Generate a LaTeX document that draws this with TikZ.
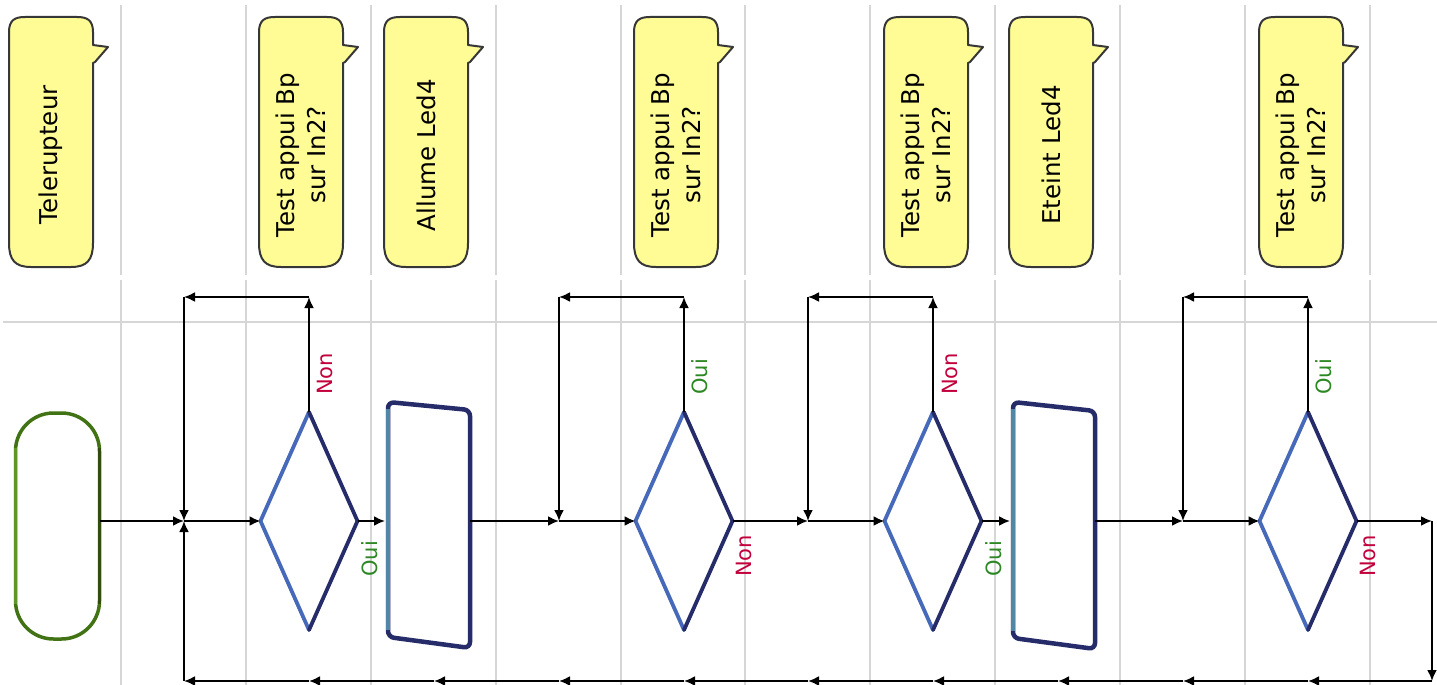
\documentclass[tikz,border=0pt]{standalone}
\usepackage{fontspec}
\setmainfont{DejaVu Sans}
\usetikzlibrary{shapes.geometric,arrows.meta}
\definecolor{gridc}{RGB}{214,214,214}
\definecolor{callfill}{RGB}{255,252,150}
\definecolor{calldraw}{RGB}{55,55,55}
\definecolor{blueL}{RGB}{70,105,185}
\definecolor{blueD}{RGB}{38,44,105}
\definecolor{tealL}{RGB}{80,135,165}
\definecolor{greenL}{RGB}{95,150,40}
\definecolor{greenM}{RGB}{65,115,20}
\definecolor{greenD}{RGB}{50,75,15}
\definecolor{nonc}{RGB}{195,0,60}
\definecolor{ouic}{RGB}{45,135,35}
\begin{document}
\begin{tikzpicture}[x=1pt,y=-1pt,
  gridl/.style={draw=gridc,line width=1.5pt},
  conn/.style={draw=black,line width=2pt,-{Latex[length=11pt,width=10pt]}},
  calltext/.style={rotate=90,align=center,inner sep=0pt,font=\fontsize{24.5}{31}\selectfont},
  lab/.style={rotate=90,anchor=west,inner sep=0pt,font=\fontsize{21}{24}\selectfont},
  dia/.style={shape=diamond,minimum width=97pt,minimum height=218pt,inner sep=0pt,outer sep=0pt,fill=white},
  procbox/.style={minimum width=82pt,minimum height=246pt,inner sep=0pt,outer sep=0pt},
]
\useasboundingbox (0,0) rectangle (1437,685);
% grid
\foreach \gx in {121,246,371,496,621,745,870,995,1120,1245,1370}{
  \draw[gridl] (\gx,5) -- (\gx,275);
  \draw[gridl] (\gx,280) -- (\gx,685);
}
\draw[gridl] (3,322) -- (1437,322);
% callouts
\foreach \cx/\txt/\n in {51/Telerupteur/1, 301/{Test appui Bp\\sur In2?}/2, 426/Allume Led4/3,
   676/{Test appui Bp\\sur In2?}/4, 926/{Test appui Bp\\sur In2?}/5, 1051/Eteint Led4/6,
   1301/{Test appui Bp\\sur In2?}/7}{
  \filldraw[fill=callfill,draw=calldraw,line width=2pt,line join=round]
    ({\cx-42},32) .. controls ({\cx-42},20) and ({\cx-36},17) .. ({\cx-26},17)
    -- ({\cx+26},17) .. controls ({\cx+36},17) and ({\cx+42},20) .. ({\cx+42},32)
    -- ({\cx+42},45) -- ({\cx+57},47) -- ({\cx+44},62) -- ({\cx+42},63)
    -- ({\cx+42},243) .. controls ({\cx+42},260) and ({\cx+36},267) .. ({\cx+20},267)
    -- ({\cx-20},267) .. controls ({\cx-36},267) and ({\cx-42},260) .. ({\cx-42},243)
    -- cycle;
  \node[calltext] (c\n) at (\cx,155) {\txt};
}
% coordinates
\coordinate (j1) at (184,521);
\coordinate (j2) at (559,521);
\coordinate (j3) at (808,521);
\coordinate (j4) at (1183,521);
\coordinate (k1) at (184,297);
\coordinate (k2) at (559,297);
\coordinate (k3) at (808,297);
\coordinate (k4) at (1183,297);
\coordinate (u1) at (309,297);
\coordinate (u2) at (684,297);
\coordinate (u3) at (933,297);
\coordinate (u4) at (1308,297);
\coordinate (r) at (1432,521);
\coordinate (rb) at (1432,681);
% terminal
\node[draw=greenM,line width=3.5pt,rounded corners=38pt,minimum width=84pt,minimum height=226pt,fill=white,outer sep=0pt] (t) at (57.5,526) {};
\draw[greenL,line width=3.5pt] ([yshift=78pt]t.west) -- ([yshift=-78pt]t.west);
\draw[greenD,line width=3.5pt] ([yshift=78pt]t.east) -- ([yshift=-78pt]t.east);
% diamonds
\foreach \dx/\n in {309/1,684/2,933/3,1308/4}{
  \node[dia] (d\n) at (\dx,521) {};
  \draw[blueL,line width=3.8pt,line join=round,line cap=round] (d\n.north) -- (d\n.west) -- (d\n.south);
  \draw[blueD,line width=3.8pt,line join=round,line cap=round] (d\n.north) -- (d\n.east) -- (d\n.south);
}
% process boxes
\node[procbox] (p1) at (429,521) {};
\node[procbox] (p2) at (1054,521) {};
\filldraw[fill=white,draw=blueD,line width=4.5pt,rounded corners=6pt] (388,402) -- (470,410) -- (470,648) -- (388,637) -- cycle;
\draw[tealL,line width=4.5pt] (388,409) -- (388,630);
\filldraw[fill=white,draw=blueD,line width=4.5pt,rounded corners=6pt] (1013,402) -- (1095,411) -- (1095,649) -- (1013,638) -- cycle;
\draw[tealL,line width=4.5pt] (1013,409) -- (1013,631);
% main line
\draw[conn] (t.east |- j1) -- (j1);
\draw[conn] (j1) -- (d1.west);
\draw[conn] (d1.east) -- ([xshift=-3pt]p1.west);
\draw[conn] (p1.east) -- (j2);
\draw[conn] (j2) -- (d2.west);
\draw[conn] (d2.east) -- (j3);
\draw[conn] (j3) -- (d3.west);
\draw[conn] (d3.east) -- ([xshift=-3pt]p2.west);
\draw[conn] (p2.east) -- (j4);
\draw[conn] (j4) -- (d4.west);
\draw[conn] (d4.east) -- (r);
\draw[conn] (r) -- (rb);
% loops
\foreach \n in {1,2,3,4}{
  \draw[conn] (d\n.north) -- (u\n);
  \draw[conn] (u\n) -- (k\n);
  \draw[conn] (k\n) -- (j\n);
}
% bottom return
\foreach \bx [count=\i] in {1308,1183,1058,933,808,684,559,434,309,184}{
  \coordinate (b\i) at (\bx,681);
}
\draw[conn] (rb) -- (b1);
\foreach \i [evaluate=\i as \ii using int(\i+1)] in {1,...,9}{
  \draw[conn] (b\i) -- (b\ii);
}
\draw[conn] (b10) -- (j1);
% labels
\node[lab,text=nonc] (l1) at (325,395) {Non};
\node[lab,text=ouic] (l2) at (370,577) {Oui};
\node[lab,text=ouic] (l3) at (700,395) {Oui};
\node[lab,text=nonc] (l4) at (744,577) {Non};
\node[lab,text=nonc] (l5) at (950,395) {Non};
\node[lab,text=ouic] (l6) at (994,577) {Oui};
\node[lab,text=ouic] (l7) at (1324,395) {Oui};
\node[lab,text=nonc] (l8) at (1368,577) {Non};
\end{tikzpicture}
\end{document}
